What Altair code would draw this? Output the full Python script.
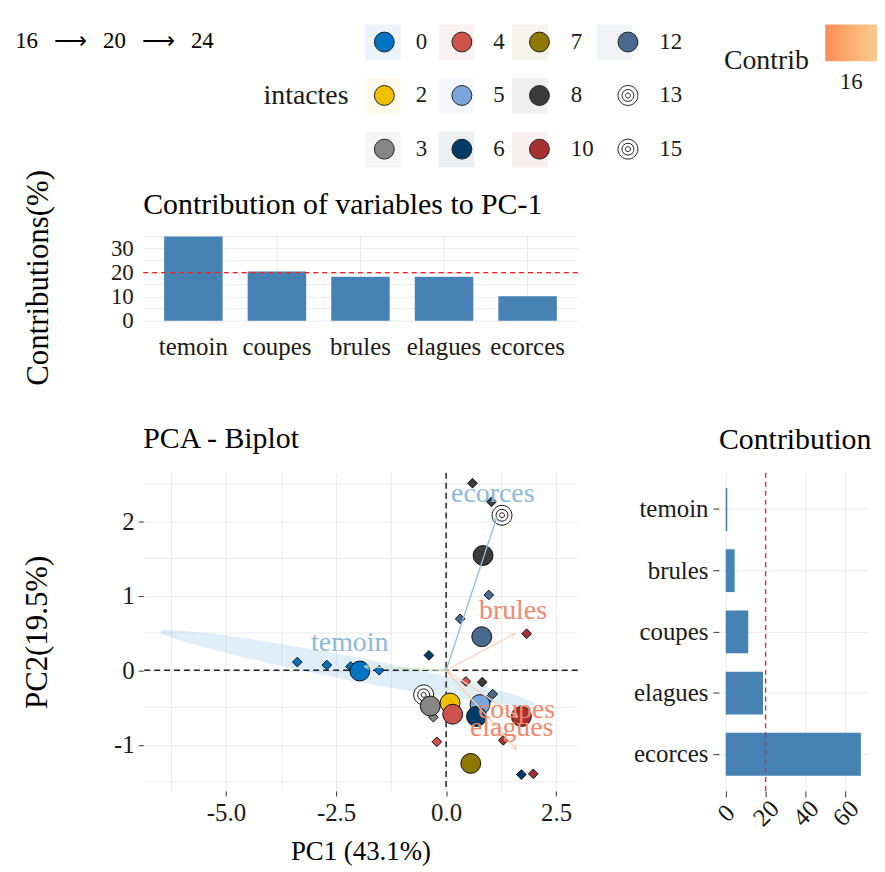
import math
import altair as alt
import pandas as pd

FONT = "Liberation Serif"

# ---------------- data ----------------
pc1_vars = ["temoin", "coupes", "brules", "elagues", "ecorces"]
pc1_vals = [35.0, 20.5, 18.3, 18.3, 10.2]

pc2_vars = ["temoin", "brules", "coupes", "elagues", "ecorces"]
pc2_vals = [0.8, 4.5, 11.3, 18.7, 67.8]

ind_grp = ["8", "8", "12", "12", "10", "6", "0", "0", "0", "0", "4", "8",
           "12", "0", "3", "3", "4", "10", "6", "10"]
ind_x = [0.60, 1.03, 0.97, 0.32, 1.83, -0.39, -3.38, -2.71, -2.17, -1.52, 0.45, 0.82,
         1.06, 0.94, -0.51, -0.29, -0.21, 1.30, 1.71, 1.98]
ind_y = [2.51, 2.26, 1.01, 0.69, 0.49, 0.20, 0.11, 0.07, 0.05, 0.00, -0.15, -0.16,
         -0.32, -0.40, -0.28, -0.63, -0.96, -0.94, -1.40, -1.39]

mean_grp = ["15", "8", "12", "0", "13", "3", "2", "4", "5", "6", "10", "7"]
mean_x = [1.27, 0.84, 0.81, -1.96, -0.51, -0.36, 0.09, 0.15, 0.77, 0.69, 1.71, 0.56]
mean_y = [2.08, 1.54, 0.45, -0.01, -0.33, -0.48, -0.44, -0.59, -0.46, -0.62, -0.62, -1.25]

ell_x = [-6.47, -6.0, -5.0, -4.0, -3.0, -2.0, -1.0, 0.0, 1.0, 1.5, 2.02]
ell_top = [0.545, 0.53, 0.47, 0.38, 0.28, 0.17, 0.05, -0.08, -0.23, -0.32, -0.43]
ell_bot = [0.49, 0.39, 0.23, 0.09, -0.04, -0.16, -0.26, -0.36, -0.44, -0.47, -0.47]

var_names = ["temoin", "coupes", "brules", "elagues", "ecorces"]
var_x = [-1.85, 1.62, 1.56, 1.60, 1.15]
var_y = [0.05, -0.62, 0.49, -1.06, 2.05]
lab_x = [-2.19, 1.60, 1.52, 1.49, 1.06]
lab_y = [0.36, -0.53, 0.80, -0.77, 2.36]
var_contrib = [24.3, 17.6, 14.0, 18.4, 28.1]
arrow_col = ["#cfe6c6", "#fbd3c2", "#fbd3c2", "#f9cfa6", "#8fbfe2"]
label_col = ["#8ab8dc", "#f4876c", "#f4876c", "#f4876c", "#8ab8dc"]

groups = ["0", "2", "3", "4", "5", "6", "7", "8", "10", "12", "13", "15"]
fill_map = {"0": "#0073C2", "2": "#EFC000", "3": "#868686", "4": "#CD534C",
            "5": "#7AA6DC", "6": "#003C67", "7": "#8F7700", "8": "#3B3B3B",
            "10": "#A73030", "12": "#4A6990", "13": "#FFFFFF", "15": "#FFFFFF"}
ring = ("M-1,0A1,1,0,1,0,1,0A1,1,0,1,0,-1,0Z"
        "M-0.6,0A0.6,0.6,0,1,0,0.6,0A0.6,0.6,0,1,0,-0.6,0Z"
        "M-0.25,0A0.25,0.25,0,1,0,0.25,0A0.25,0.25,0,1,0,-0.25,0Z")
shape_map = {g: ("circle" if g not in ("13", "15") else ring) for g in groups}
ZW = "\u200b"   # zero-width prefix, keeps the tint legend separate from the symbol legend


def tint_of(hex_color, a=0.11):
    h = hex_color.lstrip("#")
    rgb = [int(h[i:i + 2], 16) for i in (0, 2, 4)]
    mixed = [round(255 - a * (255 - c)) for c in rgb]
    return "#" + "".join(f"{c:02x}" for c in mixed)


# ---------------- layout constants ----------------
BW, BH = 437, 320          # biplot plot area
XD = [-6.88, 2.99]
YD = [-1.62, 2.65]
GRID = "#ebebeb"
TXT = "#1a1a1a"
LAB = 25

# ---------------- bar chart 1 ----------------
df1 = pd.DataFrame({"var": pc1_vars, "val": pc1_vals})
y1scale = alt.Scale(domain=[0, 36], nice=False, zero=True)
y1axis = alt.Axis(values=[0, 10, 20, 30],
                  ticks=False, tickSize=0, labelPadding=10, labelOverlap=False,
                  labelSeparation=0, labelBound=False,
                  title="Contributions(%)", titleFontSize=31,
                  titlePadding=56, gridColor=GRID,
                  labelFontSize=23, labelColor=TXT)
minor1 = alt.Chart(pd.DataFrame({"v": [5, 15, 25, 35]})).mark_rule(
    color=GRID, strokeWidth=1).encode(y=alt.Y("v:Q", scale=y1scale, axis=y1axis))
bars1 = alt.Chart(df1).mark_bar(color="#4682b4").encode(
    x=alt.X("var:N", sort=pc1_vars,
            scale=alt.Scale(paddingInner=0.3, paddingOuter=0.25),
            axis=alt.Axis(title=None, labelAngle=0, ticks=False, tickSize=0,
                          labelPadding=14, grid=True, gridColor=GRID,
                          labelFontSize=LAB, labelColor=TXT, labelOverlap=False)),
    y=alt.Y("val:Q", scale=y1scale, axis=y1axis),
)
rule1 = alt.Chart(pd.DataFrame({"v": [20]})).mark_rule(
    color="#ff1a1a", strokeDash=[5, 4], strokeWidth=1.3).encode(
    y=alt.Y("v:Q", scale=y1scale, axis=y1axis))
bar1 = alt.layer(minor1, bars1, rule1).properties(
    width=BW, height=87,
    title=alt.TitleParams("Contribution of variables to PC-1", anchor="start",
                          frame="group", offset=-51))

# ---------------- spacer ----------------
spacer = alt.Chart(pd.DataFrame({"v": [0]})).mark_point(opacity=0).encode(
    x=alt.X("v:Q", axis=None), y=alt.Y("v:Q", axis=None)).properties(width=1, height=1)

# ---------------- biplot ----------------
xs = alt.Scale(domain=XD, nice=False, zero=False)
ys = alt.Scale(domain=YD, nice=False, zero=False)
xvals = [-6.25, -5, -3.75, -2.5, -1.25, 0, 1.25, 2.5]
xaxis = alt.Axis(values=xvals, format=".1f",
                 labelExpr="datum.value % 2.5 == 0 ? datum.label : ''",
                 tickOpacity={"condition": {"test": "datum.value % 2.5 == 0", "value": 1}, "value": 0},
                 tickSize=5, tickColor="#333", labelPadding=5, gridColor=GRID, labelOverlap=False,
                 title="PC1 (43.1%)", titleFontSize=27, titlePadding=13,
                 labelFontSize=LAB, labelColor=TXT)
yaxis = alt.Axis(values=[-1, 0, 1, 2], format="d",
                 tickSize=5, tickColor="#333", labelPadding=4, gridColor=GRID, labelOverlap=False,
                 title="PC2(19.5%)", titleFontSize=31, titlePadding=60,
                 labelFontSize=LAB, labelColor=TXT)

minor_y = alt.Chart(pd.DataFrame({"v": [-1.5, -0.5, 0.5, 1.5, 2.5]})).mark_rule(
    color=GRID, strokeWidth=1).encode(y=alt.Y("v:Q", scale=ys, axis=yaxis))

ell = alt.Chart(pd.DataFrame({"x": ell_x, "t": ell_top, "b": ell_bot})).mark_area(
    color="#0073C2", opacity=0.12).encode(
    x=alt.X("x:Q", scale=xs, axis=xaxis),
    y=alt.Y("t:Q", scale=ys, axis=yaxis),
    y2="b:Q")

zero = pd.DataFrame({"v": [0]})
vline = alt.Chart(zero).mark_rule(color="#222", strokeDash=[6, 4], strokeWidth=1.5).encode(
    x=alt.X("v:Q", scale=xs))
hline = alt.Chart(zero).mark_rule(color="#222", strokeDash=[6, 4], strokeWidth=1.5).encode(
    y=alt.Y("v:Q", scale=ys))

fill_scale = alt.Scale(domain=groups, range=[fill_map[g] for g in groups])
shape_scale = alt.Scale(domain=groups, range=[shape_map[g] for g in groups])
leg_kw = dict(title="intactes", orient="none", legendX=121, legendY=-205, columns=4,
              direction="vertical", zindex=2,
              titleOrient="left", titleAnchor="middle", titleFontSize=28, titlePadding=24,
              titleFont=FONT, titleFontWeight="normal", titleColor=TXT,
              labelFontSize=23, labelFont=FONT, labelColor=TXT, labelOffset=20,
              symbolSize=400, symbolStrokeColor="#222", symbolStrokeWidth=1,
              rowPadding=29, columnPadding=22)

inds = alt.Chart(pd.DataFrame({"g": ind_grp, "x": ind_x, "y": ind_y})).mark_point(
    shape="diamond", filled=True, size=95, stroke="#111", strokeWidth=1, opacity=1).encode(
    x=alt.X("x:Q", scale=xs), y=alt.Y("y:Q", scale=ys),
    fill=alt.Fill("g:N", scale=fill_scale, legend=alt.Legend(**leg_kw)))

means = alt.Chart(pd.DataFrame({"g": mean_grp, "x": mean_x, "y": mean_y})).mark_point(
    filled=True, size=400, stroke="#111", strokeWidth=1, opacity=1).encode(
    x=alt.X("x:Q", scale=xs), y=alt.Y("y:Q", scale=ys),
    fill=alt.Fill("g:N", scale=fill_scale, legend=alt.Legend(**leg_kw)),
    shape=alt.Shape("g:N", scale=shape_scale, legend=alt.Legend(**leg_kw)))

# tinted squares behind the legend symbols (a second, label-less legend)
tint = alt.Chart(pd.DataFrame({"g": [ZW + g for g in mean_grp], "x": mean_x, "y": mean_y})).mark_square(
    opacity=0, size=1).encode(
    x=alt.X("x:Q", scale=xs), y=alt.Y("y:Q", scale=ys),
    color=alt.Color("g:N",
                    scale=alt.Scale(domain=[ZW + g for g in groups],
                                    range=[tint_of(fill_map[g]) for g in groups]),
                    legend=alt.Legend(title=None, orient="none", legendX=223, legendY=-211,
                                      columns=4, direction="vertical", symbolType="square",
                                      zindex=0,
                                      symbolSize=1296, symbolOpacity=1, symbolStrokeWidth=0,
                                      labelFontSize=23, labelFont=FONT, labelOpacity=0,
                                      labelOffset=4, rowPadding=18, columnPadding=22)))

pxx = BW / (XD[1] - XD[0])
pxy = BH / (YD[1] - YD[0])
angles = [math.degrees(math.atan2(vx * pxx, vy * pxy)) % 360 for vx, vy in zip(var_x, var_y)]
vdf = pd.DataFrame({"name": var_names, "x0": [0] * 5, "y0": [0] * 5,
                    "x": var_x, "y": var_y, "lx": lab_x, "ly": lab_y,
                    "ac": arrow_col, "lc": label_col, "ang": angles, "contrib": var_contrib})
arrows = alt.Chart(vdf).mark_rule(strokeWidth=1.3).encode(
    x=alt.X("x0:Q", scale=xs), y=alt.Y("y0:Q", scale=ys), x2="x:Q", y2="y:Q",
    color=alt.Color("ac:N", scale=None))
heads = alt.Chart(vdf).mark_point(shape="M-0.8,1.3L0,0L0.8,1.3", filled=False, size=60,
                                  strokeWidth=1.3).encode(
    x=alt.X("x:Q", scale=xs), y=alt.Y("y:Q", scale=ys),
    color=alt.Color("ac:N", scale=None), angle=alt.Angle("ang:Q", scale=None))
labels = alt.Chart(vdf).mark_text(fontSize=28, font=FONT).encode(
    x=alt.X("lx:Q", scale=xs), y=alt.Y("ly:Q", scale=ys), text="name:N",
    color=alt.Color("lc:N", scale=None))
contrib = alt.Chart(vdf).mark_point(opacity=0, size=1).encode(
    x=alt.X("x:Q", scale=xs), y=alt.Y("y:Q", scale=ys),
    stroke=alt.Stroke("contrib:Q",
                      scale=alt.Scale(domain=[14.4, 17.6], range=["#fc8d59", "#fdcb8f"]),
                      legend=alt.Legend(title="Contrib", orient="none", legendX=584, legendY=-211,
                                        direction="horizontal", gradientLength=52,
                                        gradientThickness=37, values=[16],
                                        titleOrient="left", titleAnchor="end",
                                        titleBaseline="middle",
                                        titleFontSize=28, titleFont=FONT, titleFontWeight="normal",
                                        titleColor=TXT, titlePadding=16,
                                        labelFontSize=23, labelFont=FONT, labelColor=TXT,
                                        labelOffset=10, gradientStrokeWidth=0)))

biplot = alt.layer(minor_y, ell, vline, hline, inds, means, arrows, heads, labels,
                   contrib, tint).properties(
    width=BW, height=BH,
    title=alt.TitleParams("PCA - Biplot", anchor="start", frame="group", offset=18))

# ---------------- bar chart 2 ----------------
df2 = pd.DataFrame({"var": pc2_vars, "val": pc2_vals})
bars2 = alt.Chart(df2).mark_bar(color="#4682b4").encode(
    y=alt.Y("var:N", sort=pc2_vars,
            scale=alt.Scale(paddingInner=0.3, paddingOuter=0.25),
            axis=alt.Axis(title=None, tickSize=6, tickColor="#333", labelPadding=5,
                          grid=True, gridColor=GRID, labelFontSize=LAB, labelColor=TXT,
                          labelOverlap=False)),
    x=alt.X("val:Q", scale=alt.Scale(domain=[-3.4, 71.4], nice=False, zero=False),
            axis=alt.Axis(values=[0, 10, 20, 30, 40, 50, 60, 70],
                          labelExpr="datum.value % 20 == 0 ? datum.label : ''",
                          tickOpacity={"condition": {"test": "datum.value % 20 == 0", "value": 1}, "value": 0},
                          tickSize=6, tickColor="#333", labelAngle=315, labelAlign="center",
                          labelBaseline="middle", labelPadding=16, gridColor=GRID,
                          labelOverlap=False,
                          title=None, labelFontSize=LAB, labelColor=TXT)),
)
rule2 = alt.Chart(pd.DataFrame({"v": [20]})).mark_rule(
    color="#ff1a1a", strokeDash=[5, 4], strokeWidth=1.3).encode(x="v:Q")
bar2 = alt.layer(bars2, rule2).properties(
    width=150, height=BH,
    title=alt.TitleParams("Contribution", anchor="start", frame="group", offset=17))

chart = alt.ConcatChart(
    concat=[bar1, spacer, biplot, bar2], columns=2, align="each", bounds="full",
    spacing=alt.RowColnumber(row=39, column=55),
    title=alt.TitleParams("16\u2002\u2009\u27f6\u2002\u200920\u2002\u2009\u27f6\u2002\u200924",
                          anchor="start", fontSize=23, offset=0, dx=-7, dy=29),
).properties(padding={"left": 7, "top": 14, "right": 0, "bottom": 0}).configure(
    font=FONT,
    locale=alt.Locale(number=alt.NumberLocale(decimal=".", thousands=",", grouping=[3],
                                              currency=["", ""], minus="-")),
).configure_view(stroke=None).configure_axis(
    labelFont=FONT, titleFont=FONT, titleFontWeight="normal", titleColor="black",
    domain=False, gridWidth=1, labelOverlap=False,
).configure_title(
    font=FONT, fontSize=30, fontWeight="normal", color="black", anchor="start",
)

chart.save("out.html", embed_options={"renderer": "svg", "actions": False})
